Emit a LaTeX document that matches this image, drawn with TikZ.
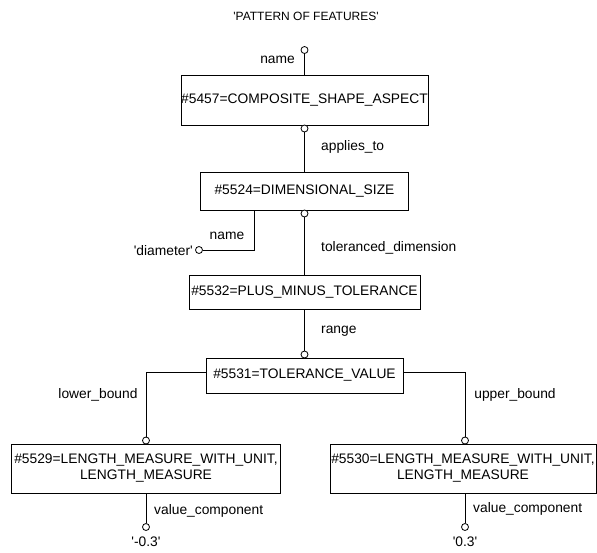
\documentclass[tikz,border=0pt]{standalone}
\usepackage{fontspec}
\setmainfont{Liberation Sans}
\usetikzlibrary{positioning}
\newcommand{\q}{\textquotesingle}

\begin{document}
\begin{tikzpicture}[
  x=1pt, y=-1pt,
  font=\fontsize{13.8}{16}\selectfont,
  ent/.style={rectangle, draw, line width=0.8pt, inner sep=0pt, align=center},
  ends/.style={circle, draw, line width=0.8pt, inner sep=0pt, minimum size=7pt, fill=white},
  lnk/.style={line width=0.8pt},
  role/.style={inner sep=1pt}
]
\useasboundingbox (0,0) rectangle (597,552);

\node[font=\fontsize{12}{14}\selectfont] (title) at (306,16) {\q PATTERN OF FEATURES\q};

\node[ends] (cname) at (304.5,50) {};
\node[ent, minimum width=247pt, minimum height=50pt] (csa) at (304.5,100) {\#5457=COMPOSITE\_SHAPE\_ASPECT};
\draw[lnk] (cname) -- (csa);
\node[role, anchor=east] (lname) at (296,60) {name};

\node[ends] (c1) at (304.5,128.5) {};
\node[ent, minimum width=208pt, minimum height=38pt] (ds) at (304.5,191) {\#5524=DIMENSIONAL\_SIZE};
\draw[lnk] (c1) -- (ds);
\node[role, anchor=west] (lapp) at (320,147) {applies\_to};

\node[ends] (c2) at (304.5,213.5) {};
\node[ent, minimum width=231pt, minimum height=34pt] (pmt) at (304.5,292) {\#5532=PLUS\_MINUS\_TOLERANCE};
\draw[lnk] (c2) -- (pmt);
\node[role, anchor=west] (ltol) at (320,248) {toleranced\_dimension};

\node[ends] (cdiam) at (199,250) {};
\draw[lnk] ([xshift=54pt]ds.south west) |- (cdiam);
\node[role] (ldname) at (227,236) {name};
\node[role, anchor=east] (ldiam) at (194,251) {\q diameter\q};

\node[ends] (c3) at (304.5,354.5) {};
\node[ent, minimum width=197pt, minimum height=35pt] (tv) at (304.5,375.5) {\#5531=TOLERANCE\_VALUE};
\draw[lnk] (pmt) -- (c3);
\node[role, anchor=west] (lrange) at (320,331) {range};

\node[ends] (clo) at (146,440.5) {};
\node[ends] (cup) at (465,440.5) {};
\draw[lnk] ([yshift=3pt]tv.west) -| (clo);
\draw[lnk] ([yshift=3pt]tv.east) -| (cup);
\node[role] (llo) at (98,395) {lower\_bound};
\node[role] (lup) at (515,395) {upper\_bound};

\node[ent, minimum width=269pt, minimum height=49pt] (lm1) at (146,468.5) {\#5529=LENGTH\_MEASURE\_WITH\_UNIT,\\LENGTH\_MEASURE};
\node[ent, minimum width=266pt, minimum height=49pt] (lm2) at (463,468.5) {\#5530=LENGTH\_MEASURE\_WITH\_UNIT,\\LENGTH\_MEASURE};

\node[ends] (cv1) at (146,527) {};
\node[ends] (cv2) at (465,527) {};
\draw[lnk] (lm1) -- (cv1);
\draw[lnk] (cv2 |- lm2.south) -- (cv2);
\node[role, anchor=west] (lv1) at (153,511) {value\_component};
\node[role, anchor=west] (lv2) at (472,509) {value\_component};
\node[role] (vlo) at (146,542) {\q-0.3\q};
\node[role] (vup) at (465,542) {\q 0.3\q};

\end{tikzpicture}
\end{document}
